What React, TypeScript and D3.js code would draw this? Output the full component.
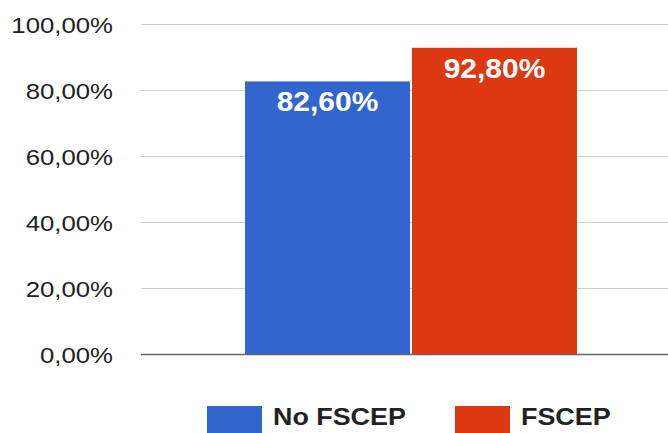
import React, { useRef, useEffect } from 'react';
import * as d3 from 'd3';

const series = ['No FSCEP', 'FSCEP'];
const values = [82.6, 92.8];
const colors = ['#3366cc', '#dc3912'];
const yTicks = [0, 20, 40, 60, 80, 100];

const fmt = (v: number) => v.toFixed(2).replace('.', ',') + '%';

const App: React.FC = () => {
  const svgRef = useRef<SVGSVGElement>(null);
  const width = 668;
  const height = 433;

  useEffect(() => {
    if (!svgRef.current) return;
    const svg = d3.select(svgRef.current);
    svg.selectAll('*').remove();

    // the original looks stretched a bit horizontally
    const sx = 1.12;

    const y = d3.scaleLinear().domain([0, 100]).range([354, 24]);
    const x = d3.scaleBand<string>()
      .domain(series)
      .range([245, 577])
      .paddingInner(0.012);

    // grid
    svg.append('g')
      .selectAll('line')
      .data(yTicks)
      .enter()
      .append('line')
      .attr('x1', 141)
      .attr('x2', width)
      .attr('y1', d => Math.round(y(d)) + 0.5)
      .attr('y2', d => Math.round(y(d)) + 0.5)
      .attr('stroke', d => (d === 0 ? '#666' : '#d0d0d0'))
      .attr('stroke-width', d => (d === 0 ? 1.5 : 1.2));

    // tick labels
    svg.append('g')
      .selectAll('text')
      .data(yTicks)
      .enter()
      .append('text')
      .attr('transform', d => `translate(113,${y(d) + 8.5}) scale(${sx},1)`)
      .attr('text-anchor', 'end')
      .style('font-family', '"Liberation Sans", Arial, sans-serif')
      .style('font-size', '23px')
      .style('fill', '#222')
      .text(d => fmt(d));

    // bars
    svg.append('g')
      .selectAll('rect')
      .data(series)
      .enter()
      .append('rect')
      .attr('x', d => x(d)!)
      .attr('y', (d, i) => y(values[i]))
      .attr('width', x.bandwidth())
      .attr('height', (d, i) => y(0) - y(values[i]))
      .attr('fill', (d, i) => colors[i]);

    // value labels
    svg.append('g')
      .selectAll('text')
      .data(series)
      .enter()
      .append('text')
      .attr('transform', (d, i) => `translate(${x(d)! + x.bandwidth() / 2},${y(values[i]) + 30}) scale(1.07,1)`)
      .attr('text-anchor', 'middle')
      .style('font-family', '"Liberation Sans", Arial, sans-serif')
      .style('font-weight', 'bold')
      .style('font-size', '28px')
      .style('fill', '#fff')
      .text((d, i) => fmt(values[i]));

    // legend
    const legendX = [207, 455];
    const legend = svg.append('g')
      .selectAll('g')
      .data(series)
      .enter()
      .append('g')
      .attr('transform', (d, i) => `translate(${legendX[i]},406)`);

    legend.append('rect')
      .attr('width', 55)
      .attr('height', 30)
      .attr('fill', (d, i) => colors[i]);

    legend.append('text')
      .attr('transform', `translate(66,19) scale(${sx},1)`)
      .style('font-family', '"Liberation Sans", Arial, sans-serif')
      .style('font-weight', 'bold')
      .style('font-size', '24px')
      .style('fill', '#222')
      .text(d => d);
  }, []);

  return (
    <svg
      ref={svgRef}
      width={width}
      height={height}
      style={{ position: 'absolute', left: 0, top: 0, background: '#fff' }}
      viewBox={`0 0 ${width} ${height}`}
    />
  );
};

export default App;
